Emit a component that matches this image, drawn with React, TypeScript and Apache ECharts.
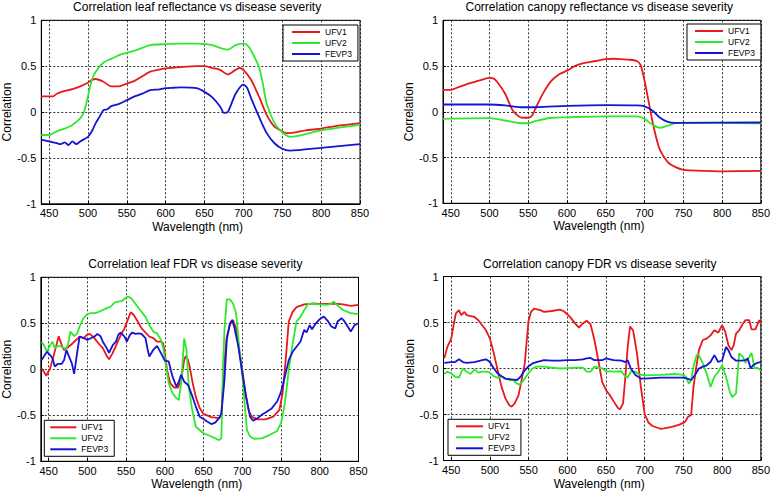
import React, { useEffect, useRef } from "react";
import * as echarts from "echarts";

// ---------- Data (wavelength nm, correlation) ----------
const seriesNames = ["UFV1", "UFV2", "FEVP3"];
const xTicks = [450, 500, 550, 600, 650, 700, 750, 800, 850];
const plotTitles = [
  "Correlation leaf reflectance vs disease severity",
  "Correlation canopy reflectance vs disease severity",
  "Correlation leaf FDR vs disease severity",
  "Correlation canopy FDR vs disease severity",
];

// Plot 1: leaf reflectance
const leafReflUFV1: number[][] = [
  [440, 0.17], [450, 0.17], [455, 0.17], [460, 0.2], [470, 0.23], [480, 0.25], [490, 0.28], [500, 0.32],
  [505, 0.35], [510, 0.36], [520, 0.33], [530, 0.28], [540, 0.28], [550, 0.31], [560, 0.34], [570, 0.39],
  [580, 0.44], [590, 0.46], [600, 0.475], [620, 0.49], [640, 0.5], [650, 0.5], [660, 0.48], [670, 0.46],
  [680, 0.41], [690, 0.46], [695, 0.48], [700, 0.46], [710, 0.35], [720, 0.17], [730, -0.03], [740, -0.16],
  [750, -0.21], [755, -0.23], [760, -0.23], [780, -0.2], [800, -0.18], [820, -0.15], [850, -0.12],
];
const leafReflUFV2: number[][] = [
  [440, -0.25], [450, -0.25], [460, -0.21], [470, -0.18], [480, -0.14], [490, -0.07], [495, 0], [500, 0.17],
  [505, 0.35], [510, 0.44], [520, 0.54], [530, 0.58], [540, 0.62], [550, 0.645], [560, 0.67], [570, 0.7],
  [580, 0.73], [600, 0.74], [620, 0.745], [640, 0.745], [650, 0.74], [660, 0.73], [670, 0.7], [680, 0.68],
  [690, 0.73], [700, 0.745], [705, 0.73], [710, 0.67], [720, 0.49], [725, 0.31], [730, 0.09], [740, -0.12],
  [750, -0.22], [760, -0.27], [770, -0.26], [800, -0.2], [850, -0.14],
];
const leafReflFEVP3: number[][] = [
  [440, -0.3], [450, -0.32], [460, -0.34], [465, -0.35], [470, -0.33], [475, -0.36], [480, -0.32], [485, -0.35],
  [490, -0.32], [500, -0.27], [505, -0.21], [510, -0.12], [515, -0.05], [520, 0.02], [525, 0.03], [530, 0.065],
  [540, 0.09], [550, 0.13], [560, 0.17], [570, 0.2], [580, 0.24], [590, 0.245], [600, 0.26], [610, 0.265],
  [620, 0.27], [640, 0.26], [650, 0.22], [660, 0.16], [670, 0.06], [675, -0.01], [680, 0], [690, 0.2],
  [700, 0.3], [705, 0.26], [710, 0.15], [720, -0.05], [730, -0.23], [740, -0.34], [750, -0.4], [760, -0.42],
  [800, -0.39], [850, -0.35],
];

// Plot 2: canopy reflectance
const canopyReflUFV1: number[][] = [
  [440, 0.24], [450, 0.24], [460, 0.27], [470, 0.3], [480, 0.325], [490, 0.35], [500, 0.37], [505, 0.365],
  [510, 0.325], [520, 0.2], [530, 0.015], [540, -0.06], [550, -0.065], [555, -0.04], [560, 0.05], [570, 0.215],
  [580, 0.34], [590, 0.41], [600, 0.45], [610, 0.5], [620, 0.53], [630, 0.545], [640, 0.56], [650, 0.575],
  [660, 0.58], [670, 0.575], [680, 0.57], [690, 0.555], [695, 0.51], [700, 0.34], [705, 0.125], [710, -0.095],
  [715, -0.28], [720, -0.42], [730, -0.55], [740, -0.605], [750, -0.635], [760, -0.64], [800, -0.65], [850, -0.645],
];
const canopyReflUFV2: number[][] = [
  [440, -0.077], [500, -0.07], [520, -0.095], [540, -0.125], [550, -0.125], [560, -0.1], [580, -0.065],
  [600, -0.06], [650, -0.05], [690, -0.05], [700, -0.077], [710, -0.14], [720, -0.175], [730, -0.15],
  [740, -0.125], [750, -0.12], [850, -0.125],
];
const canopyReflFEVP3: number[][] = [
  [440, 0.08], [500, 0.08], [520, 0.07], [540, 0.05], [560, 0.05], [600, 0.065], [650, 0.073], [690, 0.07],
  [700, 0.06], [710, 0.015], [720, -0.065], [730, -0.11], [740, -0.12], [850, -0.117],
];

// Plot 3: leaf FDR
const leafFdrUFV1: number[][] = [
  [441, 0.01], [445, -0.04], [447, -0.07], [452, 0.01], [456, 0.13], [460, 0.26], [463, 0.36], [467, 0.26],
  [470, 0.21], [475, 0.24], [480, 0.275], [490, 0.355], [495, 0.34], [500, 0.375], [503, 0.385], [508, 0.35],
  [515, 0.275], [520, 0.23], [525, 0.145], [528, 0.11], [532, 0.165], [538, 0.275], [543, 0.37], [548, 0.445],
  [552, 0.535], [556, 0.62], [560, 0.59], [565, 0.52], [570, 0.445], [575, 0.4], [580, 0.355], [585, 0.34],
  [590, 0.3], [595, 0.3], [598, 0.28], [600, 0.17], [603, -0.01], [607, -0.15], [612, -0.2], [617, -0.2],
  [621, -0.12], [625, 0.1], [627, 0.145], [630, 0.1], [632, 0.03], [636, -0.15], [640, -0.3], [645, -0.42],
  [650, -0.485], [660, -0.52], [670, -0.53], [673, -0.5], [676, 0], [680, 0.355], [684, 0.48], [688, 0.535],
  [692, 0.445], [696, 0.21], [700, 0], [704, -0.26], [708, -0.44], [712, -0.515], [720, -0.545], [730, -0.545],
  [740, -0.515], [748, -0.44], [752, -0.26], [756, 0.1], [760, 0.52], [765, 0.625], [770, 0.675], [780, 0.705],
  [790, 0.715], [800, 0.71], [810, 0.71], [820, 0.715], [830, 0.705], [840, 0.69], [850, 0.7],
];
const leafFdrUFV2: number[][] = [
  [441, 0.3], [445, 0.245], [448, 0.19], [452, 0.265], [455, 0.3], [458, 0.23], [462, 0.255], [467, 0.245],
  [472, 0.22], [475, 0.265], [478, 0.41], [480, 0.39], [483, 0.36], [487, 0.39], [490, 0.465], [495, 0.555],
  [500, 0.6], [505, 0.61], [510, 0.61], [515, 0.625], [520, 0.645], [525, 0.665], [530, 0.68], [535, 0.725],
  [540, 0.735], [545, 0.745], [550, 0.78], [553, 0.79], [557, 0.77], [560, 0.735], [565, 0.68], [570, 0.625],
  [575, 0.57], [580, 0.48], [585, 0.41], [590, 0.39], [595, 0.32], [598, 0.23], [601, 0.065], [605, -0.15],
  [610, -0.26], [615, -0.315], [618, -0.335], [621, -0.15], [625, 0.335], [628, 0.21], [631, -0.19], [635, -0.425],
  [640, -0.625], [650, -0.695], [660, -0.73], [670, -0.77], [673, -0.75], [675, 0], [677, 0.43], [680, 0.76],
  [684, 0.76], [688, 0.715], [692, 0.61], [696, 0.245], [700, -0.045], [703, -0.37], [706, -0.66], [710, -0.73],
  [715, -0.755], [725, -0.75], [735, -0.715], [745, -0.67], [750, -0.585], [755, -0.37], [760, -0.005],
  [765, 0.28], [770, 0.52], [775, 0.57], [780, 0.645], [785, 0.71], [790, 0.715], [800, 0.705], [810, 0.7],
  [815, 0.715], [818, 0.735], [822, 0.7], [830, 0.645], [840, 0.61], [850, 0.6],
];
const leafFdrFEVP3: number[][] = [
  [441, 0.1], [445, 0.155], [448, 0.19], [452, 0.155], [455, 0.12], [458, 0.03], [462, 0.06], [467, 0.06],
  [470, 0.1], [473, 0.21], [476, 0.145], [480, 0.065], [483, -0.05], [487, 0.19], [490, 0.355], [495, 0.34],
  [500, 0.32], [505, 0.34], [510, 0.36], [513, 0.385], [517, 0.36], [520, 0.3], [525, 0.23], [528, 0.18],
  [533, 0.265], [537, 0.3], [540, 0.375], [543, 0.4], [548, 0.355], [551, 0.3], [555, 0.375], [558, 0.4],
  [562, 0.385], [566, 0.39], [570, 0.385], [575, 0.34], [578, 0.21], [580, 0.14], [585, 0.21], [590, 0.255],
  [595, 0.175], [600, 0.095], [605, 0.085], [610, -0.08], [615, -0.19], [618, -0.135], [621, -0.06],
  [625, -0.135], [630, -0.17], [635, -0.28], [640, -0.405], [645, -0.515], [650, -0.54], [655, -0.57],
  [660, -0.595], [665, -0.58], [670, -0.53], [673, -0.48], [677, -0.115], [680, 0.32], [684, 0.5], [687, 0.535],
  [690, 0.445], [695, 0.245], [700, -0.045], [705, -0.3], [710, -0.515], [714, -0.56], [720, -0.53],
  [725, -0.495], [730, -0.47], [738, -0.425], [745, -0.35], [750, -0.245], [755, -0.08], [760, 0.1],
  [765, 0.19], [770, 0.245], [775, 0.3], [780, 0.43], [783, 0.4], [787, 0.48], [790, 0.435], [795, 0.5],
  [800, 0.545], [805, 0.575], [810, 0.53], [815, 0.465], [820, 0.445], [823, 0.52], [828, 0.555], [832, 0.52],
  [836, 0.465], [840, 0.41], [845, 0.48], [850, 0.5],
];

// Plot 4: canopy FDR
const canopyFdrUFV1: number[][] = [
  [441, 0.11], [445, 0.235], [450, 0.325], [453, 0.47], [456, 0.6], [460, 0.635], [463, 0.58], [467, 0.615],
  [470, 0.58], [475, 0.57], [480, 0.56], [485, 0.525], [490, 0.47], [495, 0.415], [500, 0.325], [505, 0.165],
  [510, -0.02], [515, -0.2], [520, -0.325], [525, -0.4], [528, -0.415], [532, -0.38], [537, -0.29],
  [540, -0.165], [545, 0.055], [548, 0.345], [550, 0.525], [553, 0.615], [557, 0.65], [565, 0.635],
  [570, 0.615], [580, 0.625], [590, 0.64], [595, 0.625], [600, 0.59], [605, 0.545], [610, 0.49], [615, 0.445],
  [620, 0.49], [625, 0.52], [630, 0.48], [635, 0.31], [640, 0.09], [645, -0.145], [650, -0.235], [655, -0.29],
  [660, -0.36], [665, -0.425], [668, -0.445], [672, -0.38], [675, -0.09], [678, 0.235], [681, 0.455],
  [685, 0.415], [690, 0.165], [695, -0.2], [700, -0.495], [705, -0.59], [710, -0.625], [720, -0.655],
  [725, -0.65], [735, -0.635], [745, -0.61], [752, -0.58], [756, -0.525], [760, -0.505], [763, -0.2],
  [766, -0.02], [770, 0.2], [775, 0.31], [780, 0.325], [785, 0.36], [790, 0.415], [795, 0.39], [800, 0.47],
  [804, 0.4], [808, 0.255], [812, 0.2], [815, 0.255], [818, 0.38], [822, 0.415], [827, 0.49], [830, 0.525],
  [835, 0.525], [838, 0.425], [843, 0.425], [848, 0.525], [850, 0.49],
];
const canopyFdrUFV2: number[][] = [
  [441, -0.06], [445, -0.035], [450, -0.055], [455, -0.09], [460, -0.1], [465, 0], [470, -0.035], [475, -0.06],
  [480, -0.01], [485, -0.045], [490, -0.035], [495, -0.035], [500, -0.045], [505, -0.085], [510, -0.1],
  [515, -0.085], [520, -0.11], [525, -0.125], [530, -0.125], [535, -0.165], [538, -0.175], [542, -0.145],
  [548, -0.07], [555, 0], [560, 0.02], [570, 0.02], [580, 0.01], [590, 0], [600, 0.005], [610, 0.01],
  [620, 0.01], [625, -0.035], [630, -0.035], [635, 0.02], [640, 0.01], [645, 0], [650, -0.03], [660, -0.035],
  [670, -0.03], [675, -0.09], [678, -0.1], [682, -0.035], [688, -0.035], [692, -0.06], [700, -0.075],
  [720, -0.07], [740, -0.06], [750, -0.07], [753, -0.09], [757, -0.165], [760, -0.125], [763, 0.02],
  [767, 0.145], [770, 0.145], [775, 0.055], [780, -0.055], [785, -0.2], [790, -0.09], [795, -0.035],
  [800, 0.035], [805, -0.09], [810, -0.255], [813, -0.31], [818, -0.27], [822, 0.165], [827, 0.125],
  [830, 0.06], [835, 0.125], [838, 0.17], [842, 0], [845, 0.01], [850, -0.02],
];
const canopyFdrFEVP3: number[][] = [
  [441, 0.06], [450, 0.07], [455, 0.07], [460, 0.1], [465, 0.07], [470, 0.06], [480, 0.07], [490, 0.09],
  [495, 0.1], [500, 0.07], [505, 0], [510, -0.055], [515, -0.085], [520, -0.11], [530, -0.12], [535, -0.125],
  [540, -0.085], [545, -0.02], [550, 0.025], [555, 0.055], [560, 0.07], [570, 0.09], [580, 0.085], [590, 0.085],
  [600, 0.09], [610, 0.09], [620, 0.1], [625, 0.11], [630, 0.115], [635, 0.09], [640, 0.09], [645, 0.09],
  [650, 0.11], [655, 0.1], [660, 0.09], [670, 0.085], [675, 0.07], [678, 0.09], [682, 0], [688, -0.07],
  [695, -0.11], [700, -0.11], [720, -0.1], [740, -0.1], [750, -0.1], [755, -0.11], [760, -0.125], [765, -0.07],
  [770, 0], [775, 0.02], [780, 0.035], [785, 0.07], [790, 0.145], [795, 0.07], [800, 0.09], [805, 0.235],
  [808, 0.2], [812, 0.125], [818, 0.085], [825, 0.085], [830, 0.09], [833, 0.11], [837, 0], [840, 0.035],
  [845, 0.06], [850, 0.07],
];

const plotData = [
  [leafReflUFV1, leafReflUFV2, leafReflFEVP3],
  [canopyReflUFV1, canopyReflUFV2, canopyReflFEVP3],
  [leafFdrUFV1, leafFdrUFV2, leafFdrFEVP3],
  [canopyFdrUFV1, canopyFdrUFV2, canopyFdrFEVP3],
];

// ---------- Layout / style ----------
const COLORS = ["#e8181c", "#2ee82e", "#1414d2"];
const FONT = "Liberation Sans, Arial, sans-serif";
const grids = [
  { left: 41.3, top: 20.3, width: 318.7, height: 183.5 },
  { left: 443, top: 20.3, width: 319.5, height: 183 },
  { left: 39.3, top: 277.3, width: 319.2, height: 184 },
  { left: 443.5, top: 276.5, width: 319.5, height: 184 },
];
const yNameGaps = [27, 25.7, 25.3, 26.2];
const titleTops = [1, 1, 258, 258];
const legendPos = [
  { left: 283, top: 25, itemWidth: 28, padding: [2, 6, 2, 9] },
  { left: 687, top: 24, itemWidth: 28, padding: [2, 6, 2, 8] },
  { left: 44.3, top: 420.3, itemWidth: 26, padding: [2, 6, 2, 6] },
  { left: 448, top: 419.3, itemWidth: 27, padding: [2, 6, 2, 8] },
];
const smoothVals = [0.25, 0.25, 0, 0];

export default function App() {
  const ref = useRef<HTMLDivElement>(null);
  useEffect(() => {
    if (!ref.current) return;
    const chart = echarts.init(ref.current, undefined, { renderer: "svg" });
    const gridLine = { show: true, lineStyle: { color: "#000", type: [2, 2] as any, width: 0.8 } };
    const option: any = {
      animation: false,
      backgroundColor: "#fff",
      textStyle: { fontFamily: FONT },
      title: plotTitles.map((t, i) => ({
        text: t,
        left: grids[i].left + grids[i].width / 2 - 3.5,
        top: titleTops[i],
        textAlign: "center",
        padding: 0,
        textStyle: { fontSize: 12, fontWeight: "normal", color: "#000", fontFamily: FONT },
      })),
      legend: legendPos.map((l) => ({
        data: seriesNames,
        orient: "vertical",
        left: l.left,
        top: l.top,
        padding: l.padding,
        itemWidth: l.itemWidth,
        itemHeight: 2,
        itemGap: 1,
        icon: "rect",
        backgroundColor: "#fff",
        borderColor: "#000",
        borderWidth: 1,
        borderRadius: 0,
        selectedMode: false,
        textStyle: { fontSize: 8.5, lineHeight: 10, color: "#000", fontFamily: FONT, padding: [0, 0, 0, 0] },
      })),
      grid: grids.map((g) => ({
        ...g,
        show: true,
        borderColor: "#000",
        borderWidth: 1,
        backgroundColor: "transparent",
        containLabel: false,
      })),
      xAxis: grids.map((_, i) => ({
        type: "value",
        gridIndex: i,
        min: 440,
        max: 850,
        axisLine: { show: true, onZero: false, lineStyle: { color: "#000", width: 1 } },
        axisTick: { show: true, inside: true, length: 3, customValues: xTicks, lineStyle: { color: "#000" } },
        axisLabel: { customValues: xTicks, fontSize: 11, color: "#000", margin: 4, fontFamily: FONT },
        splitLine: gridLine,
        name: "Wavelength (nm)",
        nameLocation: "middle",
        nameGap: 17,
        nameTextStyle: { fontSize: 12, color: "#000", fontFamily: FONT, padding: [0, 6, 0, 0] },
      })),
      yAxis: grids.map((_, i) => ({
        type: "value",
        gridIndex: i,
        min: -1,
        max: 1,
        interval: 0.5,
        axisLine: { show: true, onZero: false, lineStyle: { color: "#000", width: 1 } },
        axisTick: { show: true, inside: true, length: 3, lineStyle: { color: "#000" } },
        axisLabel: { fontSize: 11, color: "#000", margin: 5, fontFamily: FONT },
        splitLine: gridLine,
        name: "Correlation",
        nameLocation: "middle",
        nameGap: yNameGaps[i],
        nameRotate: 90,
        nameTextStyle: { fontSize: 12, color: "#000", fontFamily: FONT },
      })),
      series: plotData.flatMap((set, gi) =>
        set.map((d, si) => ({
          type: "line",
          name: seriesNames[si],
          xAxisIndex: gi,
          yAxisIndex: gi,
          data: d,
          showSymbol: false,
          symbol: "none",
          smooth: smoothVals[gi],
          color: COLORS[si],
          lineStyle: { color: COLORS[si], width: 1.8 },
          z: 3,
        }))
      ),
    };
    chart.setOption(option);
    return () => chart.dispose();
  }, []);
  return (
    <div
      ref={ref}
      style={{ position: "fixed", left: 0, top: 0, width: 773, height: 493, background: "#fff" }}
    />
  );
}
